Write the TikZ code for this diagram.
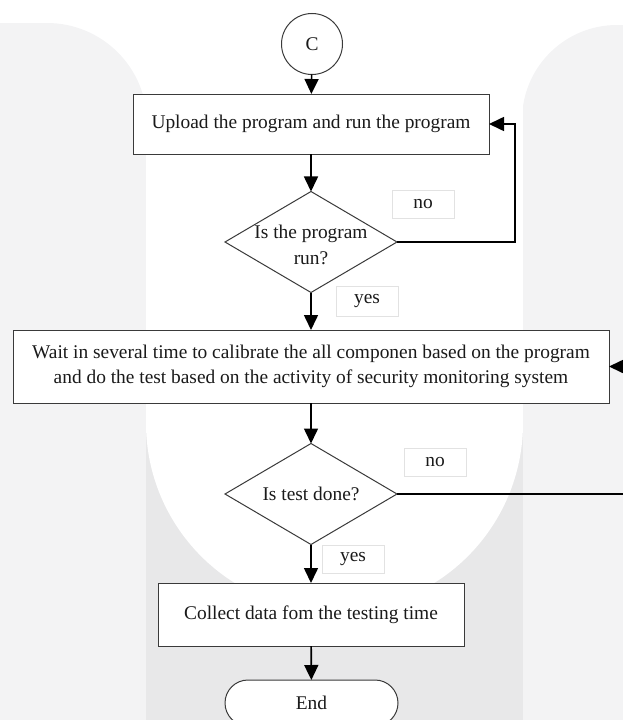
\documentclass[tikz,border=0pt]{standalone}
\usepackage{fontspec}
\setmainfont{Liberation Serif}
\usetikzlibrary{shapes.geometric,arrows.meta,calc}
\definecolor{bgl}{HTML}{F3F3F4}
\definecolor{bgd}{HTML}{E8E8E9}
\definecolor{edgec}{HTML}{3A3A3A}
\definecolor{lblc}{HTML}{E2E2E2}
\definecolor{txt}{HTML}{1A1A1A}
\begin{document}
\begin{tikzpicture}[x=1pt,y=-1pt,
  font=\fontsize{19.4}{25.5}\selectfont,
  every node/.style={text=txt},
  circ/.style={circle,draw=edgec,line width=1pt,fill=white,minimum size=61pt,inner sep=0pt,outer sep=0pt},
  box/.style={draw=edgec,line width=1pt,fill=white,align=center,inner sep=0pt,outer sep=0pt},
  dec/.style={diamond,draw=edgec,line width=1pt,fill=white,inner sep=0pt,outer sep=0pt,minimum width=172pt,minimum height=101pt},
  lblbox/.style={draw=lblc,line width=0.8pt,fill=white,minimum width=62pt,minimum height=28pt,inner sep=0pt},
  term/.style={draw=edgec,line width=1pt,fill=white,rounded corners=23pt,minimum width=173pt,minimum height=46pt,inner sep=0pt,outer sep=0pt},
  arr/.style={draw=black,line width=1.6pt,-{Triangle[length=15pt,width=14pt]}}
]
\useasboundingbox (0,0) rectangle (622,720);
% background watermark
\fill[bgl,rounded corners=100pt] (-200,900) -- (-200,23) -- (147,23) -- (147,900) -- cycle;
\fill[bgl,rounded corners=95pt] (522,900) -- (522,25) -- (900,25) -- (900,900) -- cycle;
\fill[bgd] (146,300) rectangle (523,900);
\fill[white] (146,-10) rectangle (523,423);
\fill[white] (334.5,423) circle[radius=188.5pt];
% nodes
\node[circ] (c) at (312,44) {C};
\node[box,minimum width=356pt,minimum height=60pt] (b1) at (311,124) {Upload the program and run the program};
\node[dec,label={[align=center,text=txt,yshift=-3pt]center:Is the program\\run?}] (d1) at (311,242) {};
\node[lblbox] (no1) at (423,204) {no};
\node[lblbox,minimum height=30pt] (yes1) at (367,301) {yes};
\node[box,minimum width=596pt,minimum height=73pt] (b2) at (311,366.5) {Wait in several time to calibrate the all componen based on the program\\and do the test based on the activity of security monitoring system};
\node[dec,label={[text=txt]center:Is test done?}] (d2) at (311,494) {};
\node[lblbox] (no2) at (435,462) {no};
\node[lblbox] (yes2) at (353,559) {yes};
\node[box,minimum width=306pt,minimum height=63pt] (b3) at (311,614.5) {Collect data fom the testing time};
\node[term] (end) at (311.5,703) {End};
% connectors
\coordinate (k1) at (515,0);
\coordinate (k2) at (650,0);
\draw[arr] (c) -- (b1);
\draw[arr] (b1) -- (d1);
\draw[arr] (d1) -- (b2);
\draw[arr] (d1.east) -- (d1.east -| k1) |- (b1.east);
\draw[arr] (b2) -- (d2);
\draw[arr] (d2) -- (b3);
\draw[arr] (b3) -- (end);
\draw[arr] (d2.east) -- (d2.east -| k2) |- (b2.east);
\end{tikzpicture}
\end{document}
